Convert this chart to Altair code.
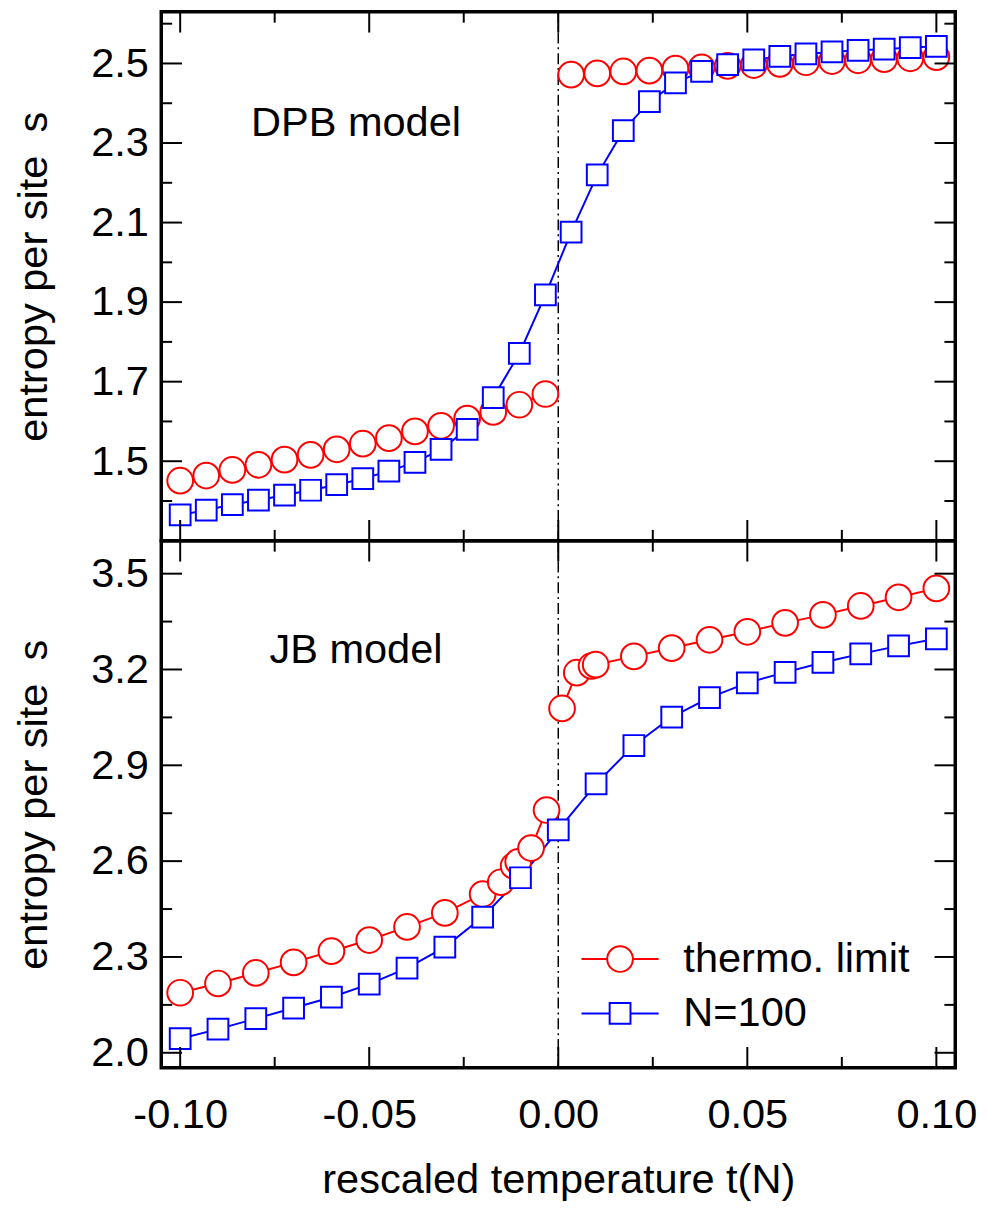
import altair as alt
import pandas as pd

FONT = "Liberation Sans"
RED = "#ff0000"
BLUE = "#0000ff"

# ---------------- data ----------------
X_DOMAIN = [-0.105, 0.105]
TOP_Y_DOMAIN = [1.30, 2.63]
BOT_Y_DOMAIN = [1.953, 3.603]

x_major = [-0.10, -0.05, 0.0, 0.05, 0.10]
x_minor = [-0.075, -0.025, 0.025, 0.075]
top_y_major = [1.5, 1.7, 1.9, 2.1, 2.3, 2.5]
top_y_minor = [1.4, 1.6, 1.8, 2.0, 2.2, 2.4, 2.6]
bot_y_major = [2.0, 2.3, 2.6, 2.9, 3.2, 3.5]
bot_y_minor = [2.15, 2.45, 2.75, 3.05, 3.35]
zero_line = [0.0]

# DPB model (top)
top_t_neg = [-0.1, -0.0931, -0.0862, -0.0793, -0.0724, -0.0655, -0.0586, -0.0517,
             -0.0448, -0.0379, -0.031, -0.0241, -0.0172, -0.0103, -0.0034]
top_t_pos = [0.0034, 0.0103, 0.0172, 0.0241, 0.031, 0.0379, 0.0448, 0.0517,
             0.0586, 0.0655, 0.0724, 0.0793, 0.0862, 0.0931, 0.1]
top_thermo_neg = [1.451, 1.464, 1.478, 1.491, 1.504, 1.516, 1.530, 1.544,
                  1.558, 1.575, 1.589, 1.607, 1.624, 1.642, 1.669]
top_thermo_pos = [2.472, 2.475, 2.480, 2.482, 2.487, 2.490, 2.494, 2.496,
                  2.499, 2.503, 2.506, 2.508, 2.511, 2.513, 2.516]
top_n100_neg = [1.365, 1.377, 1.391, 1.402, 1.415, 1.427, 1.441, 1.456,
                1.475, 1.497, 1.530, 1.580, 1.660, 1.771, 1.918]
top_n100_pos = [2.076, 2.220, 2.331, 2.404, 2.451, 2.480, 2.497, 2.509,
                2.518, 2.524, 2.529, 2.533, 2.536, 2.540, 2.543]

# JB model (bottom)
bot_thermo_t_neg = [-0.1, -0.09, -0.08, -0.07, -0.06, -0.05, -0.04, -0.03, -0.02,
                    -0.0152, -0.0118, -0.0106, -0.0072, -0.0031]
bot_thermo_neg = [2.188, 2.217, 2.250, 2.283, 2.318, 2.353, 2.394, 2.438, 2.497,
                  2.534, 2.585, 2.598, 2.641, 2.760]
bot_thermo_t_pos = [0.0010, 0.0049, 0.0088, 0.0099, 0.02, 0.03, 0.04, 0.05, 0.06,
                    0.07, 0.08, 0.09, 0.10]
bot_thermo_pos = [3.078, 3.190, 3.211, 3.215, 3.241, 3.267, 3.293, 3.318, 3.346,
                  3.371, 3.399, 3.426, 3.454]
bot_n100_t = [-0.1, -0.09, -0.08, -0.07, -0.06, -0.05, -0.04, -0.03, -0.02, -0.01, 0.0,
              0.01, 0.02, 0.03, 0.04, 0.05, 0.06, 0.07, 0.08, 0.09, 0.10]
bot_n100 = [2.044, 2.074, 2.107, 2.140, 2.174, 2.215, 2.265, 2.331, 2.425, 2.548, 2.698,
            2.842, 2.962, 3.051, 3.112, 3.158, 3.191, 3.222, 3.249, 3.274, 3.296]

panel_labels = ["DPB model", "JB model"]
panel_label_t = [-0.0535, -0.0535]
panel_label_v = [2.318, 3.219]

legend_series = ["thermo. limit", "N=100"]

# symbol paths (unit box -1..1) : line through marker
CIRCLE_PATH = "M-3,0L-1,0M1,0L3,0M-1,0A1,1 0 1,0 1,0A1,1 0 1,0 -1,0"
SQUARE_PATH = "M-3,0L-0.81,0M0.81,0L3,0M-0.81,-0.81L0.81,-0.81L0.81,0.81L-0.81,0.81Z"

PLOT_W = 803
CIRCLE_SIZE = 676
SQUARE_SIZE = 441
MAJ = 21   # tick lengths in px
MIN = 11

AXIS_TEXT = dict(labelFont=FONT, titleFont=FONT, labelFontSize=42, titleFontSize=42,
                 labelColor="black", titleColor="black", titleFontWeight="normal",
                 labelFontWeight="normal")


def seg_df(ts, vs, seg):
    return pd.DataFrame({"t": ts, "v": vs, "seg": [seg] * len(ts)})


def panel(thermo_df, n100_df, ydom, ymaj, ymin, label_idx, xaxis, height, legend):
    xs = alt.Scale(domain=X_DOMAIN, nice=False, zero=False)
    ys = alt.Scale(domain=ydom, nice=False, zero=False)
    yaxis = alt.Axis(values=ymaj, format=".1f", title="entropy per site\u00a0 s",
                     ticks=False, domain=False, grid=False, labelPadding=13,
                     titlePadding=36, minExtent=71, maxExtent=71,
                     labelOverlap=False, **AXIS_TEXT)
    X = alt.X("t:Q", scale=xs, axis=xaxis)
    Y = alt.Y("v:Q", scale=ys, axis=yaxis)

    # inward frame ticks as short rules (pixel length converted to data units)
    dv = (ydom[1] - ydom[0]) / height
    dt = (X_DOMAIN[1] - X_DOMAIN[0]) / PLOT_W
    rows = []
    for vals, ln in ((x_major, MAJ), (x_minor, MIN)):
        for t in vals:
            rows.append({"t": t, "t2": t, "v": ydom[0], "v2": ydom[0] + ln * dv})
            rows.append({"t": t, "t2": t, "v": ydom[1], "v2": ydom[1] - ln * dv})
    for vals, ln in ((ymaj, MAJ), (ymin, MIN)):
        for v in vals:
            rows.append({"t": X_DOMAIN[0], "t2": X_DOMAIN[0] + ln * dt, "v": v, "v2": v})
            rows.append({"t": X_DOMAIN[1], "t2": X_DOMAIN[1] - ln * dt, "v": v, "v2": v})
    ticks = alt.Chart(pd.DataFrame(rows)).mark_rule(
        color="black", strokeWidth=2, strokeCap="butt"
    ).encode(x=X, x2="t2:Q", y=Y, y2="v2:Q")

    zero = alt.Chart(pd.DataFrame({"t": zero_line})).mark_rule(
        color="black", strokeWidth=1.5, strokeDash=[11, 4, 2, 4]
    ).encode(x=X)

    red_line = alt.Chart(thermo_df).mark_line(color=RED, strokeWidth=2).encode(
        x=X, y=Y, detail="seg:N")
    blue_line = alt.Chart(n100_df).mark_line(color=BLUE, strokeWidth=2).encode(
        x=X, y=Y, detail="seg:N")
    red_pts = alt.Chart(thermo_df).mark_point(
        shape="circle", size=CIRCLE_SIZE, filled=True, fill="white", stroke=RED,
        strokeWidth=2, opacity=1, fillOpacity=1
    ).encode(x=X, y=Y)
    blue_pts = alt.Chart(n100_df).mark_point(
        shape="square", size=SQUARE_SIZE, filled=True, fill="white", stroke=BLUE,
        strokeWidth=2, opacity=1, fillOpacity=1
    ).encode(x=X, y=Y)

    txt = alt.Chart(pd.DataFrame({
        "label": [panel_labels[label_idx]],
        "t": [panel_label_t[label_idx]],
        "v": [panel_label_v[label_idx]],
    })).mark_text(font=FONT, fontSize=42, align="center", baseline="alphabetic",
                  color="black").encode(x=X, y=Y, text="label:N")

    layers = [zero, red_line, blue_line, red_pts, blue_pts, txt, ticks]

    if legend:
        leg_df = pd.DataFrame({"series": legend_series, "t": [1.0, 1.0], "v": [3.0, 3.0]})
        leg_kw = dict(title=None, orient="none", legendX=443, legendY=402,
                      labelFont=FONT, labelFontSize=42, labelColor="black",
                      labelLimit=500, symbolSize=CIRCLE_SIZE, symbolStrokeWidth=2,
                      labelOffset=43, rowPadding=13, padding=0)
        leg = alt.Chart(leg_df).mark_point(
            clip=True, filled=False, strokeWidth=2, size=CIRCLE_SIZE, opacity=1
        ).encode(
            x=X, y=Y,
            color=alt.Color("series:N", scale=alt.Scale(domain=legend_series, range=[RED, BLUE]),
                            legend=alt.Legend(**leg_kw)),
            shape=alt.Shape("series:N", scale=alt.Scale(domain=legend_series,
                                                        range=[CIRCLE_PATH, SQUARE_PATH]),
                            legend=alt.Legend(**leg_kw)),
        )
        layers.append(leg)

    return alt.layer(*layers).properties(width=PLOT_W, height=height)


top_thermo = pd.concat([seg_df(top_t_neg, top_thermo_neg, "a"),
                        seg_df(top_t_pos, top_thermo_pos, "b")])
top_n100 = seg_df(top_t_neg + top_t_pos, top_n100_neg + top_n100_pos, "a")
bot_thermo = pd.concat([seg_df(bot_thermo_t_neg, bot_thermo_neg, "a"),
                        seg_df(bot_thermo_t_pos, bot_thermo_pos, "b")])
bot_n100 = seg_df(bot_n100_t, bot_n100, "a")

bottom_xaxis = alt.Axis(values=x_major,
                        labelExpr="(datum.value < 0 ? '-' : '') + format(abs(datum.value), '.2f')",
                        title="rescaled temperature t(N)", ticks=False, domain=False,
                        grid=False, labelPadding=27, titlePadding=25,
                        labelFlush=False, labelOverlap=False, **AXIS_TEXT)

top = panel(top_thermo, top_n100, TOP_Y_DOMAIN, top_y_major, top_y_minor, 0,
            None, 535, False)
bottom = panel(bot_thermo, bot_n100, BOT_Y_DOMAIN, bot_y_major, bot_y_minor, 1,
               bottom_xaxis, 533, True)

chart = alt.vconcat(top, bottom, spacing=0, bounds="flush").resolve_scale(
    y="independent", color="independent", shape="independent"
).resolve_legend(color="independent", shape="independent").properties(
    padding={"left": 3, "top": -6, "right": 0, "bottom": 0},
    background="white",
).configure_view(
    stroke="black", strokeWidth=3.5
).configure_axis(
    labelFont=FONT, titleFont=FONT, labelFontSize=42, titleFontSize=42,
    labelColor="black", titleColor="black", titleFontWeight="normal"
)

chart.save("out.html", embed_options={"renderer": "svg", "actions": False})
